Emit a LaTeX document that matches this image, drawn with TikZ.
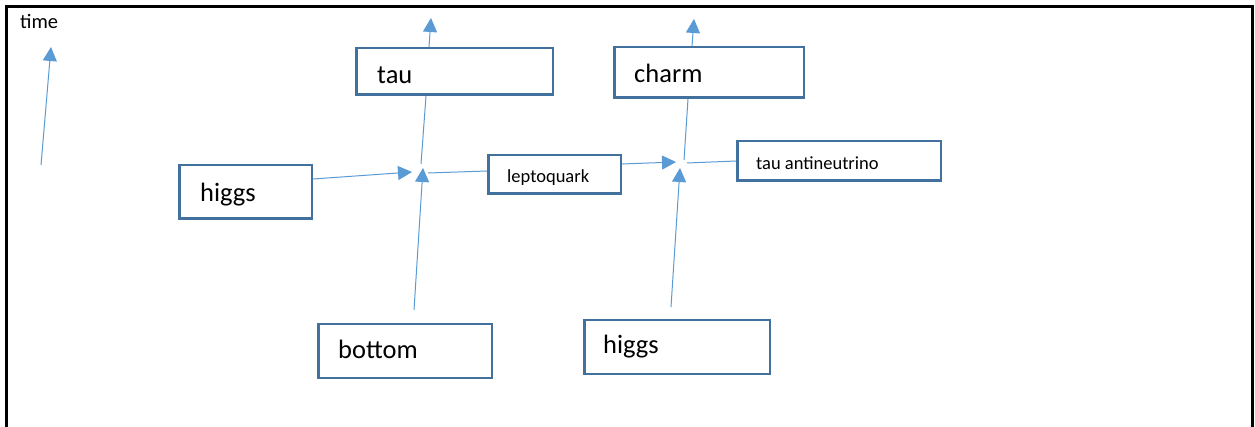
\documentclass[tikz,border=0pt]{standalone}
\usepackage{fontspec}
\setmainfont{Carlito}
\usetikzlibrary{arrows.meta}
\definecolor{lineblue}{HTML}{5B9BD5}
\definecolor{boxblue}{HTML}{41719C}
\begin{document}
\begin{tikzpicture}[x=1pt,y=-1pt,
  box/.style={draw=boxblue,line width=2.5pt,fill=white,rectangle,inner sep=0pt},
  bigtxt/.style={anchor=base west,inner sep=0pt,font=\fontsize{26.5}{30}\selectfont},
  smalltxt/.style={anchor=base west,inner sep=0pt,font=\fontsize{18.5}{22}\selectfont},
  conn/.style={draw=lineblue,line width=1pt},
  arr/.style={conn,-{Triangle[length=14pt,width=14pt]}}]
\useasboundingbox (0,0) rectangle (1255,427);
\fill[white] (0,0) rectangle (1255,427);
% frame
\draw[line width=3pt] (6,427) -- (6,7) -- (1252,7) -- (1252,427);
% boxes
\node[box,minimum width=196.5pt,minimum height=46.5pt] (tau) at (454.5,71.5) {};
\node[box,minimum width=189.5pt,minimum height=50.5pt] (charm) at (709,72.5) {};
\node[box,minimum width=132.5pt,minimum height=53.5pt] (higgsA) at (245.5,192) {};
\node[box,minimum width=132.5pt,minimum height=38.5pt] (lq) at (554.5,174.5) {};
\node[box,minimum width=203.5pt,minimum height=39.5pt] (anti) at (839,161) {};
\node[box,minimum width=173.5pt,minimum height=53.5pt] (bottom) at (405,351) {};
\node[box,minimum width=185.5pt,minimum height=53.5pt] (higgsB) at (677,347) {};
% texts
\node[smalltxt,font=\fontsize{20.5}{24}\selectfont] (timetxt) at (20,29) {time};
\node[bigtxt] (tautxt) at (377,84) {tau};
\node[bigtxt] (charmtxt) at (634,83) {charm};
\node[bigtxt] (higgsAtxt) at (200,202) {higgs};
\node[bigtxt] (bottomtxt) at (338,359) {bottom};
\node[bigtxt] (higgsBtxt) at (603,354) {higgs};
\node[smalltxt] (lqtxt) at (507,183) {leptoquark};
\node[smalltxt] (antitxt) at (756,170) {tau antineutrino};
% free ends
\coordinate (t0) at (41,165);
\coordinate (t1) at (51,47);
\coordinate (tauup) at (431,18);
\coordinate (v1t) at (421,164);
\coordinate (v1l) at (412,172);
\coordinate (v1r) at (428,173);
\coordinate (b0) at (414,310);
\coordinate (v1b) at (423,168);
\coordinate (charmup) at (694,19);
\coordinate (v2t) at (684,160);
\coordinate (v2l) at (676,162);
\coordinate (v2r) at (687,163);
\coordinate (h0) at (671,307);
\coordinate (v2b) at (680,168);
% connectors
\draw[arr] (t0) -- (t1);
\draw[arr] (429,0 |- tau.north) -- (tauup);
\draw[conn] (426,0 |- tau.south) -- (v1t);
\draw[arr] (0,179 -| higgsA.east) -- (v1l);
\draw[conn] (0,171 -| lq.west) -- (v1r);
\draw[arr] (b0) -- (v1b);
\draw[arr] (692,0 |- charm.north) -- (charmup);
\draw[conn] (688,0 |- charm.south) -- (v2t);
\draw[arr] (0,164 -| lq.east) -- (v2l);
\draw[conn] (0,161 -| anti.west) -- (v2r);
\draw[arr] (h0) -- (v2b);
\end{tikzpicture}
\end{document}
